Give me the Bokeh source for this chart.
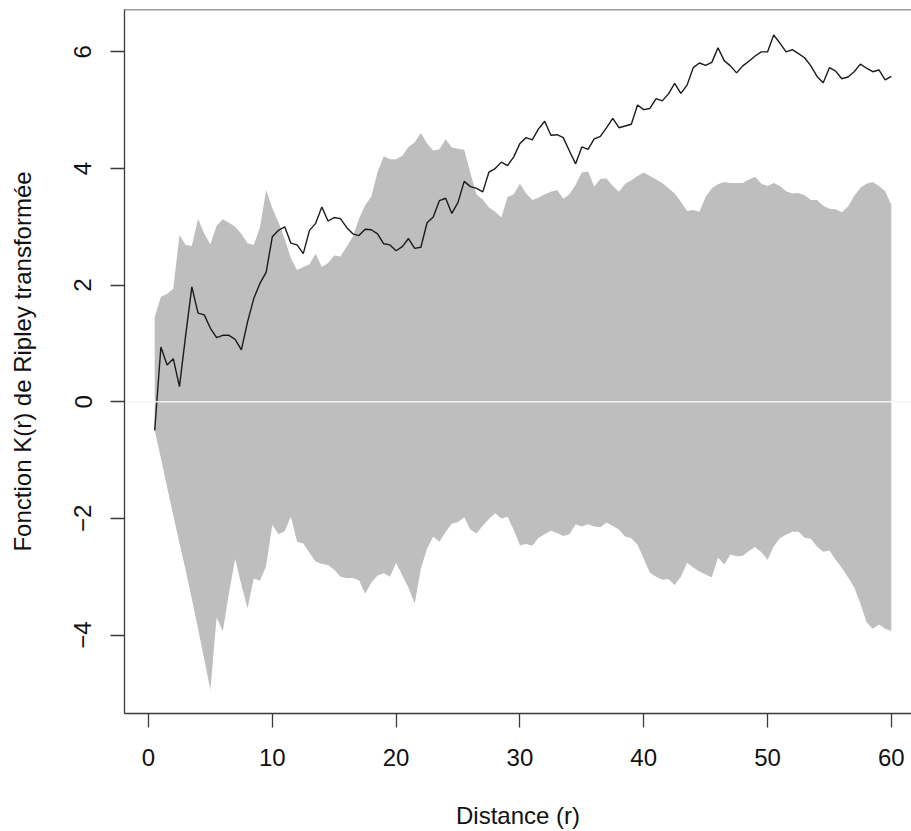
from bokeh.plotting import figure
from bokeh.models import Range1d, FixedTicker, Span
from bokeh.embed import file_html
from bokeh.resources import INLINE

# distance r
R_VALUES = [0.5, 1.0, 1.5, 2.0, 2.5, 3.0, 3.5, 4.0, 4.5, 5.0,
            5.5, 6.0, 6.5, 7.0, 7.5, 8.0, 8.5, 9.0, 9.5, 10.0,
            10.5, 11.0, 11.5, 12.0, 12.5, 13.0, 13.5, 14.0, 14.5, 15.0,
            15.5, 16.0, 16.5, 17.0, 17.5, 18.0, 18.5, 19.0, 19.5, 20.0,
            20.5, 21.0, 21.5, 22.0, 22.5, 23.0, 23.5, 24.0, 24.5, 25.0,
            25.5, 26.0, 26.5, 27.0, 27.5, 28.0, 28.5, 29.0, 29.5, 30.0,
            30.5, 31.0, 31.5, 32.0, 32.5, 33.0, 33.5, 34.0, 34.5, 35.0,
            35.5, 36.0, 36.5, 37.0, 37.5, 38.0, 38.5, 39.0, 39.5, 40.0,
            40.5, 41.0, 41.5, 42.0, 42.5, 43.0, 43.5, 44.0, 44.5, 45.0,
            45.5, 46.0, 46.5, 47.0, 47.5, 48.0, 48.5, 49.0, 49.5, 50.0,
            50.5, 51.0, 51.5, 52.0, 52.5, 53.0, 53.5, 54.0, 54.5, 55.0,
            55.5, 56.0, 56.5, 57.0, 57.5, 58.0, 58.5, 59.0, 59.5, 60.0]

# observed transformed K function
OBSERVED = [-0.49, 0.94, 0.63, 0.74, 0.26, 1.14, 1.97, 1.52, 1.49, 1.26,
            1.10, 1.14, 1.14, 1.07, 0.89, 1.37, 1.77, 2.03, 2.22, 2.83,
            2.94, 3.00, 2.72, 2.69, 2.54, 2.94, 3.06, 3.34, 3.10, 3.16,
            3.14, 2.99, 2.88, 2.85, 2.96, 2.95, 2.88, 2.71, 2.69, 2.59,
            2.66, 2.80, 2.63, 2.65, 3.07, 3.17, 3.45, 3.49, 3.23, 3.42,
            3.78, 3.69, 3.66, 3.60, 3.94, 4.00, 4.11, 4.05, 4.20, 4.43,
            4.53, 4.49, 4.68, 4.81, 4.57, 4.58, 4.53, 4.30, 4.08, 4.37,
            4.33, 4.51, 4.55, 4.70, 4.86, 4.70, 4.73, 4.76, 5.09, 5.01,
            5.03, 5.20, 5.16, 5.28, 5.46, 5.29, 5.43, 5.73, 5.81, 5.77,
            5.82, 6.07, 5.85, 5.76, 5.64, 5.76, 5.84, 5.93, 6.00, 6.00,
            6.29, 6.15, 6.00, 6.04, 5.97, 5.90, 5.76, 5.58, 5.47, 5.73,
            5.67, 5.54, 5.57, 5.66, 5.79, 5.72, 5.66, 5.69, 5.52, 5.58]

# envelope upper bound
ENV_HI = [1.46, 1.80, 1.85, 1.94, 2.86, 2.69, 2.67, 3.14, 2.88, 2.70,
          3.02, 3.13, 3.07, 3.00, 2.88, 2.72, 2.69, 2.99, 3.63, 3.32,
          3.08, 2.79, 2.46, 2.26, 2.31, 2.36, 2.54, 2.31, 2.38, 2.51,
          2.49, 2.66, 2.83, 3.14, 3.37, 3.52, 3.94, 4.21, 4.16, 4.16,
          4.22, 4.37, 4.45, 4.61, 4.43, 4.31, 4.33, 4.50, 4.36, 4.34,
          4.32, 3.92, 3.55, 3.47, 3.33, 3.26, 3.16, 3.51, 3.56, 3.74,
          3.57, 3.46, 3.50, 3.56, 3.60, 3.63, 3.48, 3.56, 3.72, 3.93,
          3.95, 3.69, 3.82, 3.83, 3.70, 3.60, 3.74, 3.80, 3.87, 3.93,
          3.87, 3.81, 3.75, 3.66, 3.57, 3.43, 3.27, 3.29, 3.26, 3.51,
          3.66, 3.73, 3.77, 3.75, 3.75, 3.75, 3.81, 3.86, 3.74, 3.70,
          3.75, 3.70, 3.61, 3.57, 3.58, 3.54, 3.46, 3.46, 3.36, 3.31,
          3.30, 3.25, 3.35, 3.53, 3.67, 3.74, 3.77, 3.70, 3.61, 3.38]

# envelope lower bound
ENV_LO = [-0.49, -0.97, -1.46, -1.95, -2.42, -2.89, -3.38, -3.89, -4.41, -4.94,
          -3.70, -3.93, -3.28, -2.69, -3.14, -3.54, -3.03, -3.07, -2.82, -2.11,
          -2.27, -2.22, -1.97, -2.40, -2.43, -2.59, -2.74, -2.78, -2.80, -2.88,
          -3.00, -3.02, -3.02, -3.06, -3.29, -3.10, -2.98, -2.94, -3.00, -2.76,
          -2.98, -3.19, -3.46, -2.86, -2.52, -2.31, -2.40, -2.23, -2.09, -2.06,
          -1.98, -2.19, -2.26, -2.12, -2.01, -1.91, -2.00, -1.97, -2.20, -2.46,
          -2.44, -2.47, -2.33, -2.27, -2.21, -2.25, -2.30, -2.27, -2.10, -2.14,
          -2.10, -2.14, -2.15, -2.07, -2.13, -2.19, -2.31, -2.34, -2.45, -2.69,
          -2.93, -3.00, -3.05, -3.04, -3.14, -3.00, -2.76, -2.84, -2.91, -2.96,
          -3.01, -2.67, -2.79, -2.62, -2.65, -2.64, -2.56, -2.49, -2.58, -2.71,
          -2.48, -2.34, -2.28, -2.23, -2.23, -2.33, -2.35, -2.48, -2.57, -2.55,
          -2.71, -2.85, -3.01, -3.18, -3.46, -3.78, -3.89, -3.82, -3.89, -3.93]

THEO = 0.0
X_TICKS = [0, 10, 20, 30, 40, 50, 60]
Y_TICKS = [-4, -2, 0, 2, 4, 6]
X_LABEL = "Distance (r)"
Y_LABEL = "Fonction K(r) de Ripley transformée"

FONT = "Liberation Sans"
FRAME_COLOR = "#3a3a3a"
Y_TOP = 6.727

p = figure(width=911, height=831, output_backend="svg", toolbar_location=None,
           x_range=Range1d(-1.94, 61.63), y_range=Range1d(-5.345, Y_TOP),
           min_border_left=124, min_border_right=0, min_border_top=9,
           min_border_bottom=118,
           background_fill_color="white", border_fill_color="white")
p.grid.visible = False
p.outline_line_color = None

p.varea(x=R_VALUES, y1=ENV_LO, y2=ENV_HI, fill_color="#bebebe")
p.add_layout(Span(location=THEO, dimension="width", line_color="#f4f4f4",
                  line_width=1.5, level="glyph"))
p.line(R_VALUES, OBSERVED, line_color="#1a1a1a", line_width=1.4)
# top edge of the box (right edge is cropped in the reference)
p.add_layout(Span(location=Y_TOP, dimension="width", line_color=FRAME_COLOR,
                  line_width=1.5))

for ax in (p.xaxis[0], p.yaxis[0]):
    ax.axis_line_color = FRAME_COLOR
    ax.axis_line_width = 1.3
    ax.major_tick_line_color = FRAME_COLOR
    ax.major_tick_line_width = 1.3
    ax.major_tick_in = 0
    ax.major_tick_out = 14
    ax.minor_tick_in = 0
    ax.minor_tick_out = 0
    ax.major_label_text_font = FONT
    ax.major_label_text_font_size = "24px"
    ax.major_label_text_color = "#111111"
    ax.axis_label_text_font = FONT
    ax.axis_label_text_font_size = "24px"
    ax.axis_label_text_font_style = "normal"
    ax.axis_label_text_color = "#111111"

p.xaxis.ticker = FixedTicker(ticks=X_TICKS)
p.yaxis.ticker = FixedTicker(ticks=Y_TICKS)
p.xaxis.axis_label = X_LABEL
p.yaxis.axis_label = Y_LABEL
p.xaxis.major_label_standoff = 21
p.xaxis.axis_label_standoff = 33
p.yaxis.major_label_standoff = 19
p.yaxis.major_label_orientation = "vertical"
p.yaxis.axis_label_standoff = 36

open("out.html", "w").write(file_html(p, INLINE))
